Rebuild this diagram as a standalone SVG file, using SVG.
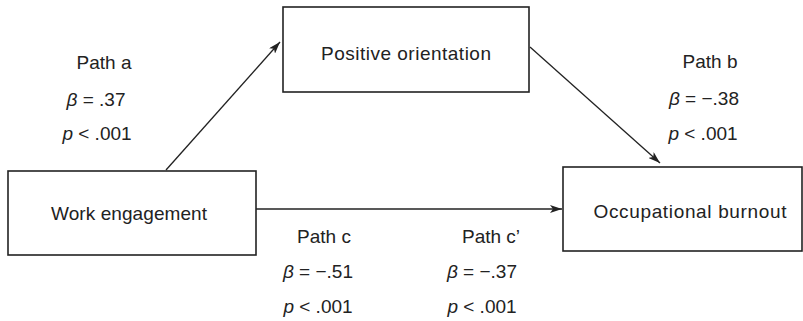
<svg xmlns="http://www.w3.org/2000/svg" width="803" height="321" viewBox="0 0 803 321">
<style>
.box{fill:#fff;stroke:#222;stroke-width:1.6}
.t{font-family:"Liberation Sans",Arial,sans-serif;font-size:19px;fill:#222;text-anchor:middle}
.ln{stroke:#222;stroke-width:1.3;fill:none;marker-end:url(#ah)}
.it{font-style:italic}
</style>
<defs>
<marker id="ah" viewBox="0 0 12 8" refX="12" refY="4" markerWidth="12" markerHeight="8" markerUnits="userSpaceOnUse" orient="auto">
<path d="M0,0 L12,4 L0,8 L3,4 Z" fill="#222"/>
</marker>
</defs>
<rect width="803" height="321" fill="#fff"/>
<g id="connectors">
<line class="ln" x1="166" y1="170" x2="280" y2="42"/>
<line class="ln" x1="530" y1="47" x2="660" y2="163"/>
<line class="ln" x1="256" y1="209" x2="562" y2="209"/>
</g>
<g id="work-engagement">
<rect class="box" x="8" y="171" width="248" height="84"/>
<text class="t" x="129" y="220" textLength="156" lengthAdjust="spacing">Work engagement</text>
</g>
<g id="positive-orientation">
<rect class="box" x="283" y="7" width="246" height="85"/>
<text class="t" x="406" y="60" textLength="170" lengthAdjust="spacing">Positive orientation</text>
</g>
<g id="occupational-burnout">
<rect class="box" x="563" y="167" width="239" height="84"/>
<text class="t" x="690" y="218" textLength="193" lengthAdjust="spacing">Occupational burnout</text>
</g>
<g id="labels">
<text class="t" x="104" y="69">Path a</text>
<text class="t" x="96" y="106"><tspan class="it">β</tspan> = .37</text>
<text class="t" x="97" y="140"><tspan class="it">p</tspan> &lt; .001</text>
<text class="t" x="710" y="68">Path b</text>
<text class="t" x="704" y="105"><tspan class="it">β</tspan> = −.38</text>
<text class="t" x="703" y="140"><tspan class="it">p</tspan> &lt; .001</text>
<text class="t" x="324" y="243">Path c</text>
<text class="t" x="318" y="278"><tspan class="it">β</tspan> = −.51</text>
<text class="t" x="318" y="313"><tspan class="it">p</tspan> &lt; .001</text>
<text class="t" x="491" y="243">Path c’</text>
<text class="t" x="482" y="278"><tspan class="it">β</tspan> = −.37</text>
<text class="t" x="482" y="313"><tspan class="it">p</tspan> &lt; .001</text>
</g>
</svg>
